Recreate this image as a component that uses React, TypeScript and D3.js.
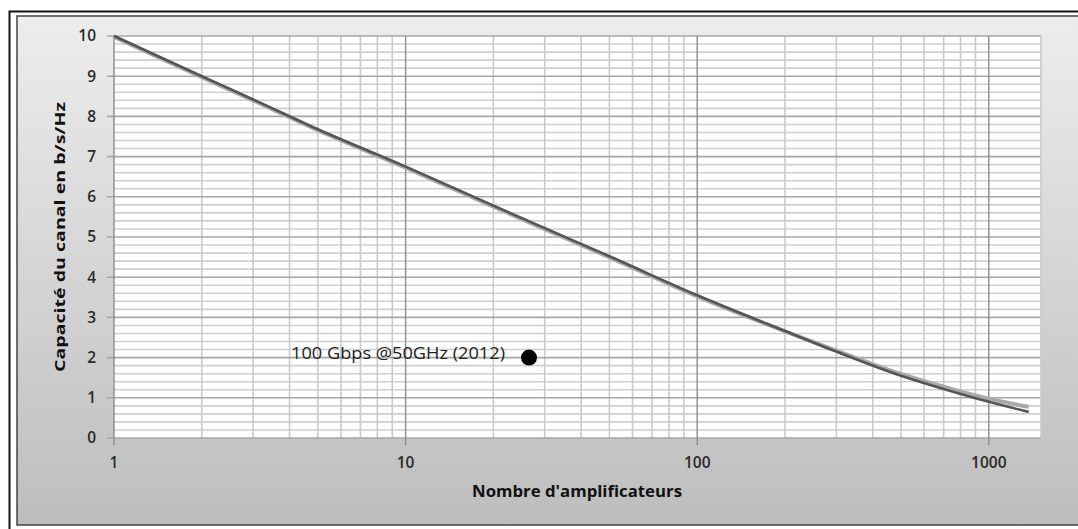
import React, { useEffect, useRef } from 'react';
import * as d3 from 'd3';

// amplifier counts sampled along the curves
const amplifiers = [1, 2, 3, 5, 10, 20, 30, 50, 100, 200, 300, 500, 700, 1000, 1370];
// light gray curve
const capacityLight = [10, 9.0, 8.42, 7.68, 6.75, 5.78, 5.22, 4.52, 3.55, 2.68, 2.2, 1.62, 1.3, 1.0, 0.8];
// dark gray curve
const capacityDark = [10, 9.0, 8.42, 7.68, 6.75, 5.78, 5.22, 4.52, 3.55, 2.66, 2.15, 1.55, 1.22, 0.9, 0.65];

const yTicks = [0, 1, 2, 3, 4, 5, 6, 7, 8, 9, 10];
const xTicks = [1, 10, 100, 1000];

const marker = { x: 26.5, y: 2, label: '100 Gbps @50GHz (2012)' };

const App: React.FC = () => {
  const svgRef = useRef<SVGSVGElement | null>(null);

  useEffect(() => {
    if (!svgRef.current) return;
    const width = 1078;
    const height = 529;
    const plot = { left: 114, top: 36, right: 1041, bottom: 438 };

    const svg = d3.select(svgRef.current);
    svg.selectAll('*').remove();

    const defs = svg.append('defs');
    const grad = defs.append('linearGradient').attr('id', 'bg').attr('x1', 0).attr('y1', 0).attr('x2', 0).attr('y2', 1);
    grad.append('stop').attr('offset', '0%').attr('stop-color', '#ededed');
    grad.append('stop').attr('offset', '100%').attr('stop-color', '#bdbdbd');

    // frames
    svg.append('rect').attr('x', 0).attr('y', 0).attr('width', width).attr('height', height).attr('fill', '#fff');
    svg.append('rect').attr('x', 9.5).attr('y', 11.5).attr('width', 1100).attr('height', 540)
      .attr('fill', '#fff').attr('stroke', '#111').attr('stroke-width', 2);
    svg.append('rect').attr('x', 17).attr('y', 16).attr('width', 1100).attr('height', 509)
      .attr('fill', 'url(#bg)').attr('stroke', '#444').attr('stroke-width', 1.5);

    const x = d3.scaleLog().domain([1, 1510]).range([plot.left, plot.right]);
    const y = d3.scaleLinear().domain([0, 10]).range([plot.bottom, plot.top]);

    svg.append('rect').attr('x', plot.left).attr('y', plot.top)
      .attr('width', plot.right - plot.left).attr('height', plot.bottom - plot.top).attr('fill', '#fff');

    const g = svg.append('g');

    // minor horizontal grid
    const minorY = d3.range(0, 10.01, 0.2).filter(v => Math.abs(v - Math.round(v)) > 0.01);
    g.selectAll('line.minY').data(minorY).enter().append('line')
      .attr('x1', plot.left).attr('x2', plot.right)
      .attr('y1', d => y(d)).attr('y2', d => y(d))
      .attr('stroke', '#cfcfcf').attr('stroke-width', 1.6);

    // minor vertical grid
    const minorX: number[] = [];
    [1, 10, 100, 1000].forEach(dec => {
      for (let k = 2; k <= 9; k++) if (dec * k <= 1510) minorX.push(dec * k);
    });
    g.selectAll('line.minX').data(minorX).enter().append('line')
      .attr('y1', plot.top).attr('y2', plot.bottom)
      .attr('x1', d => x(d)).attr('x2', d => x(d))
      .attr('stroke', '#cacaca').attr('stroke-width', 1.6);

    // major grid
    g.selectAll('line.majY').data(yTicks).enter().append('line')
      .attr('x1', plot.left - 7).attr('x2', plot.right)
      .attr('y1', d => y(d)).attr('y2', d => y(d))
      .attr('stroke', '#a6a6a6').attr('stroke-width', 1.6);
    g.selectAll('line.majX').data(xTicks).enter().append('line')
      .attr('y1', plot.top).attr('y2', plot.bottom + 7)
      .attr('x1', d => x(d)).attr('x2', d => x(d))
      .attr('stroke', '#8c8c8c').attr('stroke-width', 1.4);

    // right edge of plot
    g.append('line').attr('x1', plot.right).attr('x2', plot.right).attr('y1', plot.top).attr('y2', plot.bottom)
      .attr('stroke', '#cacaca').attr('stroke-width', 1.6);

    // tick labels
    const font = "'Open Sans', 'DejaVu Sans', sans-serif";
    svg.selectAll('text.yt').data(yTicks).enter().append('text')
      .attr('x', 96).attr('y', d => y(d)).attr('dy', '0.35em')
      .attr('text-anchor', 'end').attr('font-family', font).attr('font-size', 15.5).attr('font-weight', 600)
      .attr('fill', '#2a2a2a').text(d => d);
    svg.selectAll('text.xt').data(xTicks).enter().append('text')
      .attr('x', d => x(d)).attr('y', 463).attr('dy', '0.35em')
      .attr('text-anchor', 'middle').attr('font-family', font).attr('font-size', 15.5).attr('font-weight', 600)
      .attr('fill', '#2a2a2a').text(d => d);

    // axis titles
    svg.append('text')
      .attr('transform', `translate(60, 237) rotate(-90)`)
      .attr('text-anchor', 'middle').attr('dy', '0.35em')
      .attr('font-family', font)
      .attr('font-weight', 'bold').attr('font-size', 15).attr('fill', '#111')
      .attr('textLength', 270).attr('lengthAdjust', 'spacingAndGlyphs')
      .text('Capacité  du canal en b/s/Hz');
    svg.append('text')
      .attr('x', 577).attr('y', 491).attr('dy', '0.35em').attr('text-anchor', 'middle')
      .attr('font-family', font).attr('font-weight', 'bold').attr('font-size', 16).attr('fill', '#111')
      .attr('textLength', 210).attr('lengthAdjust', 'spacingAndGlyphs')
      .text("Nombre d'amplificateurs");

    // curves
    const line = d3.line<number>()
      .x((_, i) => x(amplifiers[i]))
      .y(d => y(d))
      .curve(d3.curveMonotoneX);

    g.append('path').datum(capacityLight).attr('d', line)
      .attr('fill', 'none').attr('stroke', '#a9a9a9').attr('stroke-width', 4)
      .attr('transform', 'translate(0,1)');
    g.append('path').datum(capacityDark).attr('d', line)
      .attr('fill', 'none').attr('stroke', '#555').attr('stroke-width', 2.6);

    // marker
    g.append('circle').attr('cx', x(marker.x)).attr('cy', y(marker.y)).attr('r', 8).attr('fill', '#000');
    svg.append('text')
      .attr('x', x(marker.x) - 24).attr('y', y(marker.y) - 4).attr('dy', '0.35em')
      .attr('text-anchor', 'end').attr('font-family', font).attr('font-size', 16.5).attr('fill', '#222')
      .attr('textLength', 214).attr('lengthAdjust', 'spacingAndGlyphs')
      .text(marker.label);
  }, []);

  return <svg ref={svgRef} width={1078} height={529} style={{ display: 'block', position: 'absolute', left: 0, top: 0 }} />;
};

export default App;
